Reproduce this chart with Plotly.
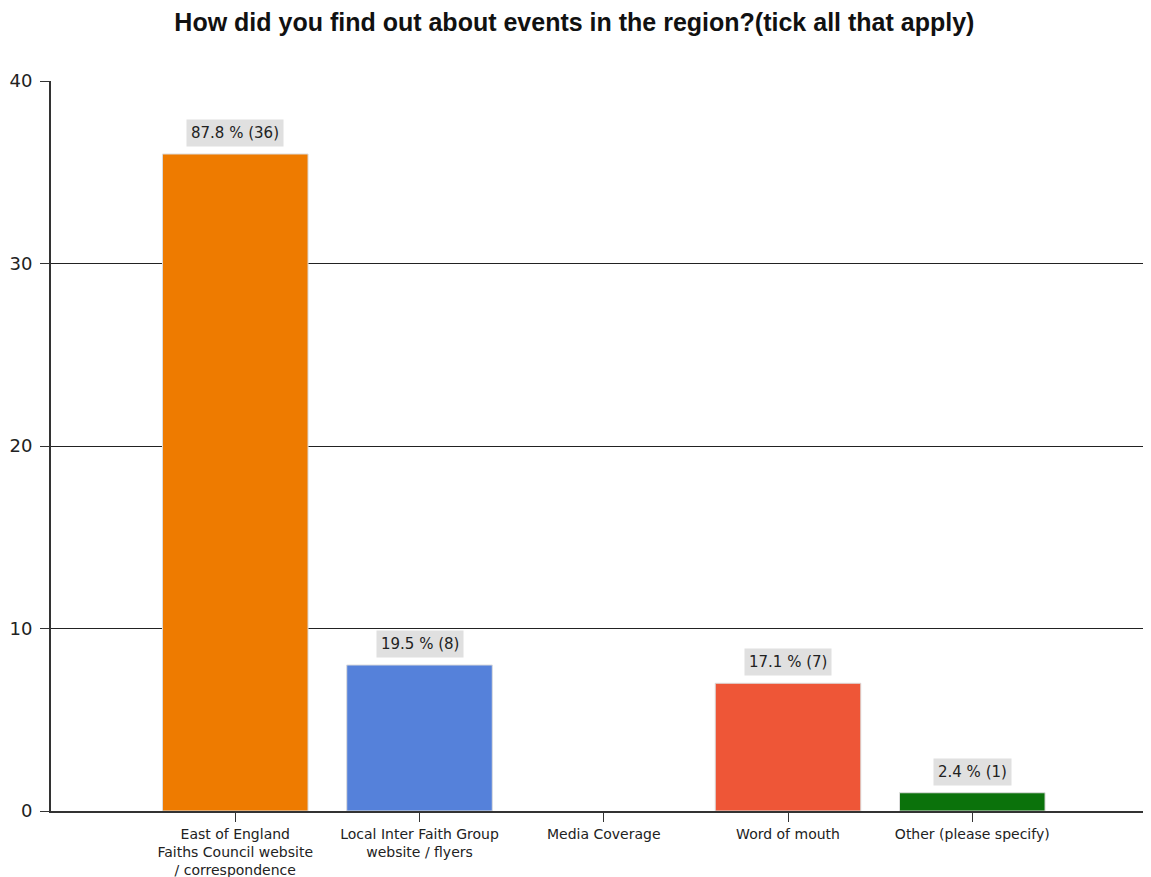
import plotly.graph_objects as go

categories = [
    "East of England<br>Faiths Council website<br>/ correspondence",
    "Local Inter Faith Group<br>website / flyers",
    "Media Coverage",
    "Word of mouth",
    "Other (please specify)",
]
counts = [36, 8, 0, 7, 1]
percents = [87.8, 19.5, 0.0, 17.1, 2.4]
bar_colors = ["#EE7B00", "#5581DA", "#888888", "#EE5637", "#0B720B"]
y_ticks = [0, 10, 20, 30, 40]

LABEL_FONT = "DejaVu Sans, Verdana, sans-serif"

fig = go.Figure()
fig.add_trace(go.Bar(
    x=list(range(len(categories))),
    y=counts,
    width=0.79,
    marker=dict(
        color=bar_colors,
        line=dict(color="#dcdcdc", width=[1 if c > 0 else 0 for c in counts]),
    ),
    hoverinfo="skip",
))

for i, (c, p) in enumerate(zip(counts, percents)):
    if c > 0:
        fig.add_annotation(
            x=i, y=c, xref="x", yref="y",
            text=f"{p:.1f} % ({c})",
            showarrow=False, yanchor="bottom", yshift=7,
            bgcolor="#e0e0e0", borderpad=4,
            font=dict(family=LABEL_FONT, size=15, color="#222222"),
        )

# page body has an 8px margin; figure is sized/margined to compensate
fig.update_layout(
    width=1143, height=869,
    margin=dict(l=43, r=0, t=73, b=66),
    paper_bgcolor="white", plot_bgcolor="white",
    showlegend=False,
    title=dict(
        text="<b>How did you find out about events in the region?(tick all that apply)</b>",
        x=0.4955, xanchor="center", y=0.984, yanchor="middle",
        font=dict(family="Liberation Sans, Arial, sans-serif", size=25, color="#111111"),
    ),
    xaxis=dict(
        tickmode="array",
        tickvals=list(range(len(categories))),
        ticktext=categories,
        range=[-1, 4.97],
        showline=True, linecolor="#333333", linewidth=2,
        ticks="outside", ticklen=9, tickcolor="#333333", tickwidth=1,
        showgrid=False, zeroline=False,
        tickfont=dict(family=LABEL_FONT, size=14, color="#222222"),
        fixedrange=True,
    ),
    yaxis=dict(
        range=[0, 40],
        tickmode="array", tickvals=y_ticks,
        showline=True, linecolor="#333333", linewidth=2,
        ticks="outside", ticklen=9, tickcolor="#333333", tickwidth=1,
        showgrid=True, gridcolor="#222222", gridwidth=1,
        zeroline=False,
        ticklabelstandoff=4,
        tickfont=dict(family=LABEL_FONT, size=18, color="#222222"),
        fixedrange=True,
    ),
    bargap=0.2,
)

fig.write_html("out.html")
